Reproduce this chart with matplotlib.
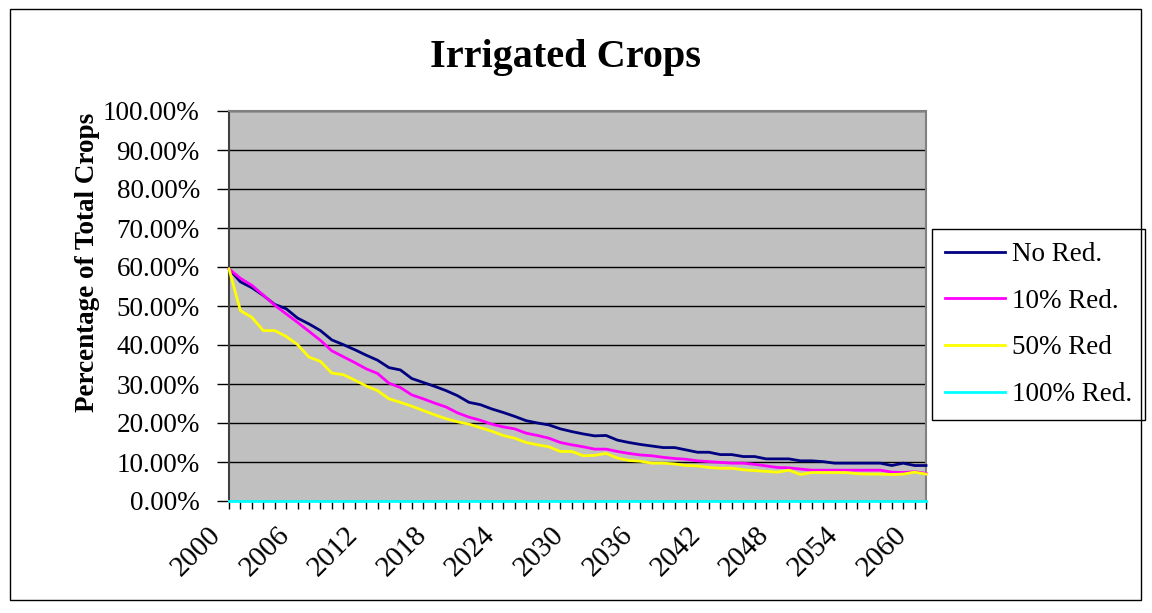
import matplotlib
matplotlib.use("Agg")
import matplotlib.pyplot as plt
from matplotlib.patches import Rectangle
from matplotlib.transforms import Bbox, ScaledTranslation
import numpy as np

years = list(range(2000, 2062))
tick_years = list(range(2000, 2061, 6))
y_ticks = [0, 10, 20, 30, 40, 50, 60, 70, 80, 90, 100]

no_red = [59.5, 56.2, 54.7, 52.7, 50.4, 49.3, 46.9, 45.4, 43.7, 41.3,
          40.1, 38.8, 37.4, 36.1, 34.2, 33.6, 31.4, 30.4, 29.4, 28.3,
          27.0, 25.3, 24.7, 23.6, 22.7, 21.7, 20.6, 20.0, 19.5, 18.5,
          17.8, 17.2, 16.7, 16.8, 15.6, 15.0, 14.5, 14.1, 13.7, 13.7,
          13.1, 12.5, 12.5, 11.9, 11.9, 11.4, 11.4, 10.8, 10.8, 10.8,
          10.3, 10.3, 10.1, 9.7, 9.7, 9.7, 9.7, 9.7, 9.1, 9.7,
          9.1, 9.1]
red_10 = [59.5, 57.1, 55.3, 52.8, 50.2, 48.0, 45.8, 43.5, 41.2, 38.5,
          37.0, 35.5, 33.9, 32.7, 30.2, 29.1, 27.2, 26.2, 25.1, 24.1,
          22.6, 21.5, 20.7, 19.7, 19.0, 18.5, 17.4, 16.8, 16.1, 15.0,
          14.4, 13.9, 13.3, 13.3, 12.7, 12.2, 11.8, 11.6, 11.2, 10.9,
          10.7, 10.3, 10.1, 9.9, 9.7, 9.7, 9.4, 9.0, 8.6, 8.5,
          8.2, 7.9, 7.9, 7.9, 7.9, 7.9, 7.9, 7.9, 7.4, 7.3,
          7.5, 7.1]
red_50 = [59.5, 48.8, 47.1, 43.7, 43.7, 42.2, 40.1, 36.9, 35.8, 32.8,
          32.4, 31.0, 29.5, 28.3, 26.2, 25.3, 24.3, 23.2, 22.1, 21.1,
          20.3, 19.7, 18.8, 17.9, 16.8, 16.1, 15.0, 14.4, 13.9, 12.7,
          12.7, 11.6, 11.7, 12.2, 11.0, 10.4, 10.2, 9.7, 9.7, 9.5,
          9.1, 9.0, 8.6, 8.4, 8.4, 8.0, 7.8, 7.6, 7.4, 7.9,
          6.8, 7.3, 7.3, 7.3, 7.3, 7.0, 6.9, 6.9, 6.8, 6.9,
          7.4, 6.9]
red_100 = [0.0] * 62

series = [
    ("No Red.", no_red, "#000080"),
    ("10% Red.", red_10, "#FF00FF"),
    ("50% Red", red_50, "#FFFF00"),
    ("100% Red.", red_100, "#00FFFF"),
]

W, H = 1152, 613
plt.rcParams["font.family"] = ["Liberation Serif", "DejaVu Serif"]
fig = plt.figure(figsize=(W / 100, H / 100), dpi=100)
fig.patch.set_facecolor("white")

def fx(x):
    return x / W

def fy(y):
    return 1 - y / H

ax = fig.add_axes([fx(229), fy(501), fx(926) - fx(229), fy(111) - fy(501)])
ax.set_facecolor("#C0C0C0")

for label, vals, col in series:
    ax.plot(years, vals, color=col, lw=2.0, label=label, clip_on=False, zorder=3)

ax.set_xlim(2000, 2061)
ax.set_ylim(0, 100)
ax.set_yticks(y_ticks)
ax.set_yticklabels([f"{v:.2f}%" for v in y_ticks])
ax.yaxis.grid(True, color="black", lw=1.0)
ax.set_axisbelow(True)

ax.set_xticks(years, minor=True)
ax.set_xticks(tick_years)
ax.set_xticklabels([str(y) for y in tick_years], rotation=45, ha="right",
                   va="center", rotation_mode="anchor")
ax.tick_params(axis="x", which="both", length=6, width=1, direction="out",
               pad=10, labelsize=21)
ax.tick_params(axis="y", length=9, width=1, direction="out", pad=12,
               labelsize=19.5)
off = ScaledTranslation(-12 / 100, -8 / 100, fig.dpi_scale_trans)
for lab in ax.get_xticklabels():
    lab.set_transform(lab.get_transform() + off)

for side in ["top", "right"]:
    ax.spines[side].set_color("#808080")
    ax.spines[side].set_linewidth(1.5)
ax.spines["left"].set_color("#404040")
ax.spines["left"].set_linewidth(1.5)
ax.spines["bottom"].set_color("#404040")

# Title
fig.text(fx(565), fy(57), "Irrigated Crops", ha="center", va="center",
         fontsize=29, fontweight="bold")

# Y axis title (clipped at top like the original)
yl = fig.text(fx(88), fy(412), "Percentage of Total Crops", rotation=90,
              ha="center", va="bottom", fontsize=19.5, fontweight="bold")
yl.set_clip_box(Bbox.from_extents(0, 0, W, H - 112))
yl.set_clip_on(True)

# Legend
leg = ax.legend(loc="upper left", bbox_to_anchor=(fx(932), fy(229)),
                bbox_transform=fig.transFigure, fancybox=False,
                edgecolor="black", framealpha=1, fontsize=19.5,
                handlelength=2.2, handletextpad=0.28, labelspacing=0.8,
                borderpad=0.48, borderaxespad=0)
leg.get_frame().set_linewidth(1.0)

# Outer chart border
fig.patches.append(Rectangle((fx(10), fy(600)), fx(1141) - fx(10),
                             fy(9) - fy(600), transform=fig.transFigure,
                             fill=False, edgecolor="black", lw=1.0))

fig.savefig("out.png", dpi=100)
